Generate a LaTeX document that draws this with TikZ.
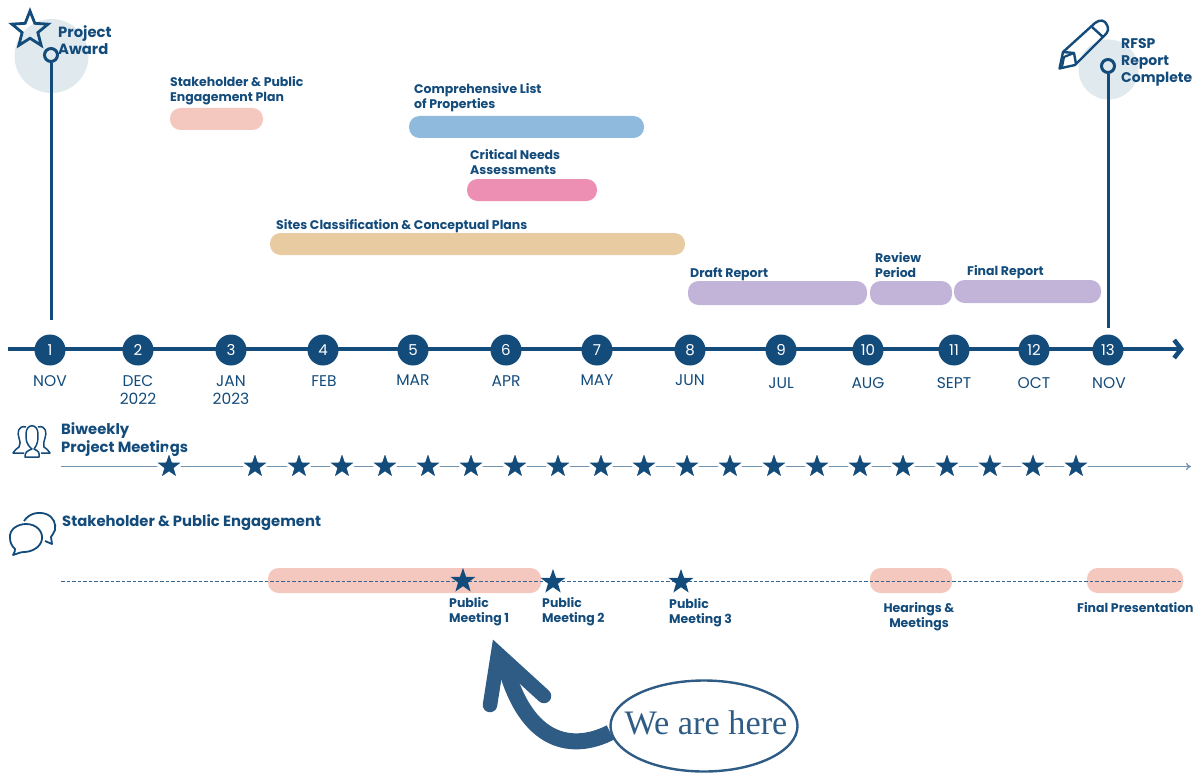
\documentclass[tikz,border=0pt]{standalone}
\usepackage{fontspec}
\setmainfont{Poppins}
\newfontfamily\monthfont{Poppins}
\newfontfamily\herefont{Liberation Serif}
\usetikzlibrary{shapes.geometric,arrows.meta,calc}
\definecolor{navy}{HTML}{134B7B}
\definecolor{halo}{HTML}{E0E9ED}
\definecolor{salmon}{HTML}{F4C8BE}
\definecolor{skyb}{HTML}{8FBADD}
\definecolor{rose}{HTML}{EC8FB3}
\definecolor{tan}{HTML}{E8CBA1}
\definecolor{lilac}{HTML}{C2B4D8}
\definecolor{herec}{HTML}{2F5C85}
\tikzset{
 lbl/.style={font=\fontsize{12.5}{15}\selectfont\bfseries,text=navy,align=left,anchor=north west,inner sep=0pt},
 lblb/.style={lbl,font=\fontsize{14.8}{18}\selectfont\bfseries},
 month/.style={font=\monthfont\fontsize{15.5}{18}\selectfont,text=navy,align=center,anchor=north,inner sep=0pt},
 num/.style={circle,fill=navy,minimum size=31pt,inner sep=0pt,text=white,font=\monthfont\fontsize{15}{15}\selectfont},
 ringn/.style={circle,draw=navy,line width=3pt,minimum size=13pt,inner sep=0pt},
 starn/.style={star,star points=5,star point ratio=2.5,fill=navy,draw=white,line width=3pt,minimum size=34pt,inner sep=0pt},
 starp/.style={star,star points=5,star point ratio=2.5,fill=navy,minimum size=26pt,inner sep=0pt},
 icon/.style={draw=navy,line width=2pt,line join=round,fill=none},
}
\begin{document}
\begin{tikzpicture}[x=1pt,y=-1pt]
\useasboundingbox (0,0) rectangle (1204,773);
% halos
\fill[halo] (51.5,56) circle (37);
\fill[halo] (1108.5,69.5) circle (30);
% bars
\def\bar#1#2#3#4#5{\fill[#5,rounded corners=10.5pt] (#1,#3) rectangle (#2,#4);}
\bar{170}{263}{108}{130}{salmon}
\bar{409}{644}{116}{138}{skyb}
\bar{467}{597}{179}{201}{rose}
\bar{270}{685}{233}{255}{tan}
\bar{688}{867}{281}{305}{lilac}
\bar{870}{952}{281}{305}{lilac}
\bar{954}{1101}{280}{303}{lilac}
\bar{268}{541}{568}{593}{salmon}
\bar{870}{952}{568}{593}{salmon}
\bar{1087}{1183}{568}{593}{salmon}
% milestones
\node[ringn] (r1) at (51,55) {};
\node[ringn] (r2) at (1108,66) {};
\coordinate (r1e) at (51,320);
\coordinate (r2e) at (1108,328);
\draw[navy,line width=3pt] (r1) -- (r1e);
\draw[navy,line width=3pt] (r2) -- (r2e);
% timeline
\coordinate (ts) at (8,349);
\coordinate (te) at (1184,349);
\draw[navy,line width=4.5pt,-{Straight Barb[length=7pt,width=18pt,line width=4.5pt]}] (ts) -- (te);
\foreach \n/\x in {1/50,2/138,3/231,4/323,5/413,6/506,7/597,8/690,9/781,10/868,11/954,12/1034,13/1108}
  \node[num] (n\n) at (\x,350) {\n};
\node[month] (m1) at (50,375) {NOV};
\node[month] (m2) at (138,375) {DEC\\2022};
\node[month] (m3) at (231,375) {JAN\\2023};
\node[month] (m4) at (324,375) {FEB};
\node[month] (m5) at (413,374) {MAR};
\node[month] (m6) at (506,375) {APR};
\node[month] (m7) at (597,374) {MAY};
\node[month] (m8) at (690,374) {JUN};
\node[month] (m9) at (781,377) {JUL};
\node[month] (m10) at (868,377) {AUG};
\node[month] (m11) at (954,377) {SEPT};
\node[month] (m12) at (1034,377) {OCT};
\node[month] (m13) at (1109,377) {NOV};
% labels
\node[lbl,font=\fontsize{14.8}{17}\selectfont\bfseries] (a) at (58,25) {Project\\Award};
\node[lbl] (b) at (170,76) {Stakeholder \& Public\\Engagement Plan};
\node[lbl] (c) at (414,83) {Comprehensive List\\of Properties};
\node[lbl] (d) at (470,149) {Critical Needs\\Assessments};
\node[lbl] (e) at (276,219) {Sites Classification \& Conceptual Plans};
\node[lbl] (f) at (690,267) {Draft Report};
\node[lbl] (g) at (875,252) {Review\\Period};
\node[lbl] (h) at (967,265) {Final Report};
\node[lbl,font=\fontsize{14}{17}\selectfont\bfseries] (i) at (1121,38.5) {RFSP\\Report\\Complete};
\node[lblb] (j) at (61,422) {Biweekly\\Project Meetings};
\node[lblb] (k) at (62,514) {Stakeholder \& Public Engagement};
\node[lbl] (p1) at (449,597) {Public\\Meeting 1};
\node[lbl] (p2) at (542,597) {Public\\Meeting 2};
\node[lbl] (p3) at (669,598) {Public\\Meeting 3};
\node[lbl,align=center,anchor=north] (p4) at (919,602) {Hearings \&\\Meetings};
\node[lbl] (p5) at (1077,602) {Final Presentation};
% biweekly line
\coordinate (bs) at (61,466.5);
\coordinate (be) at (1191,466.5);
\draw[navy!60!white,line width=1.3pt,-{To[length=5pt,width=7pt]}] (bs) -- (be);
\foreach \x [count=\i] in {169,255,299,342,385,428,471,515,558,601,644,687,730,774,817,860,903,947,990,1033,1076}
  \node[starn] (s\i) at (\x,466.5) {};
% engagement line
\coordinate (es) at (61,581);
\coordinate (ee) at (1183,581);
\draw[navy!85!white,line width=1pt,dash pattern=on 3.5pt off 2pt] (es) -- (ee);
\node[starp] (ps1) at (463,581) {};
\node[starp] (ps2) at (553,582) {};
\node[starp] (ps3) at (681,582) {};
% star outline icon
\node[star,star points=5,star point ratio=2.3,draw=navy,line width=2.8pt,miter limit=10,minimum size=38pt,inner sep=0pt] (bigstar) at (30,30) {};
% pencil icon
\draw[icon,line width=2.4pt] (1063,52) -- (1095,23) .. controls (1100,19) and (1105,20) .. (1107,25) .. controls (1109,29) and (1108,32) .. (1105,35) -- (1075,65) -- (1059.5,68.5) -- cycle;
\draw[icon,line width=2.4pt] (1092,27) -- (1103,37);
\draw[icon,line width=2.4pt] (1063,52) -- (1074,53) -- (1076,64);
\draw[icon,line width=2.2pt] (1074,53) -- (1064,57) -- (1062,67);
% people icon
\draw[icon,line width=1.5pt] (25,457) .. controls (25,452) and (27,451) .. (32,449) .. controls (26,444) and (26,440) .. (26,434) .. controls (26,423) and (38,423) .. (38,434) .. controls (38,440) and (38,444) .. (34,449) .. controls (38,451) and (40,452) .. (39,457) -- cycle;
\draw[icon,line width=1.5pt] (26,427) .. controls (18,425) and (17,433) .. (19,438) .. controls (20,442) and (21,444) .. (19,447) .. controls (17,449) and (14,450) .. (13,453) -- (24,453);
\draw[icon,line width=1.5pt] (38,427) .. controls (46,425) and (47,433) .. (45,438) .. controls (44,442) and (43,444) .. (44,447) .. controls (46,449) and (49,450) .. (50,453) -- (41,453);
% chat icon
\draw[icon,line width=1.8pt] (10,538) .. controls (9,529) and (18,524) .. (26,524) .. controls (37,524) and (43,532) .. (42,539) .. controls (41,547) and (32,552) .. (24,552) .. controls (20,552) and (17,554) .. (13,555) .. controls (15,552) and (15,550) .. (15,549) .. controls (12,546) and (10,543) .. (10,538) -- cycle;
\draw[icon,line width=1.8pt] (24,521) .. controls (30,512) and (40,512) .. (46,514) .. controls (54,517) and (56,524) .. (55,530) .. controls (54,533) and (52,535) .. (51,537) -- (52,544) -- (45,541);
% we are here
\node[ellipse,draw=herec,line width=2.4pt,minimum width=187pt,minimum height=91pt,inner sep=0pt] (here) at (704,726) {};
\node[font=\herefont\fontsize{34.3}{35}\selectfont,text=herec,inner sep=0pt] (heret) at (706,723) {We are here};
\coordinate (tipa) at (490,705);
\coordinate (tipb) at (498,654);
\coordinate (tipc) at (544,696);
\coordinate (shaft) at (506,668);
\draw[herec,line width=16pt] (here.184) .. controls (580,748) and (530,752) .. (shaft);
\draw[herec,line width=14.5pt,line cap=round,line join=miter,miter limit=10] (tipa) -- (tipb) -- (tipc);
\end{tikzpicture}
\end{document}
